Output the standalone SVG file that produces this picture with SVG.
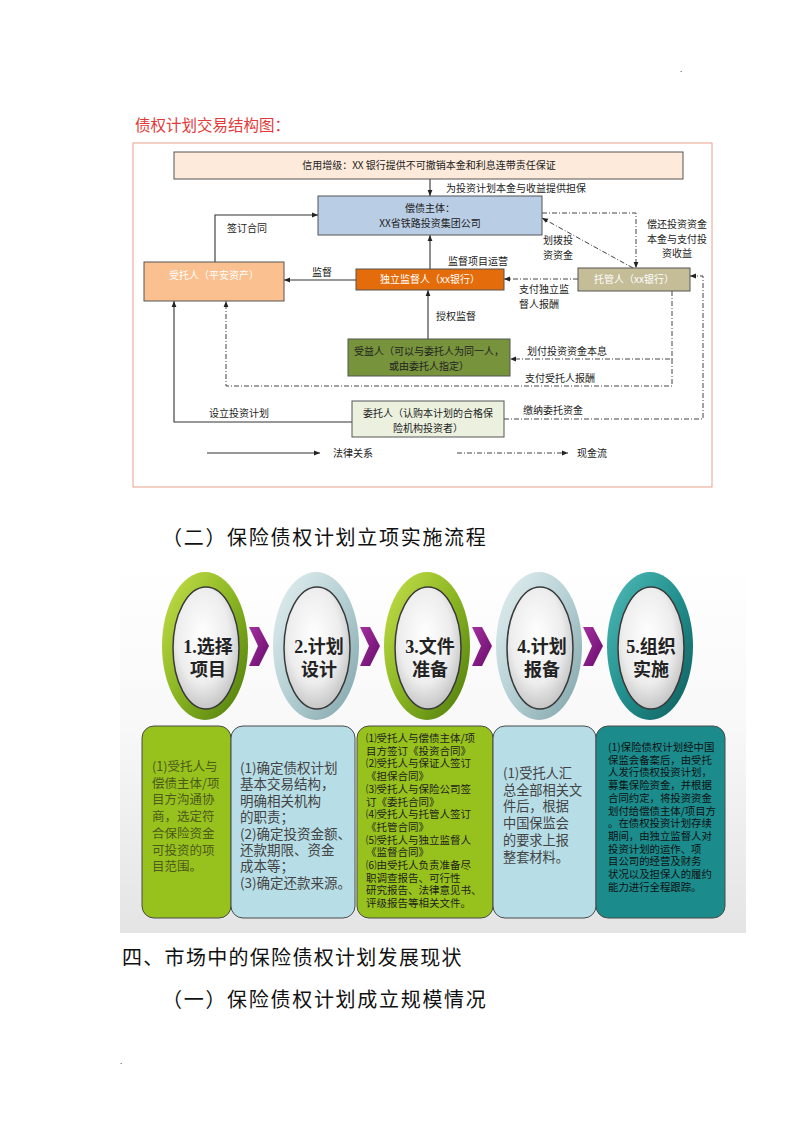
<svg xmlns="http://www.w3.org/2000/svg" width="800" height="1132" viewBox="0 0 800 1132">
<defs>
<style>
.t{font-family:"Noto Sans CJK SC","Liberation Sans",sans-serif;}
.s{font-family:"Noto Sans CJK SC","Liberation Sans",sans-serif;font-size:10px;fill:#222;}
.w{fill:#fff;}
.c{text-anchor:middle;}
.h{font-family:"Noto Sans CJK SC","Liberation Serif",serif;font-size:20px;fill:#111;}
.ln{fill:none;stroke:#333;stroke-width:1.1;}
.dd{fill:none;stroke:#444;stroke-width:1;stroke-dasharray:5 2 1 2;}
.box{stroke:#555;stroke-width:1;}
.ov{font-family:"Liberation Serif","Noto Sans CJK SC",serif;font-size:18px;font-weight:bold;fill:#222;text-anchor:middle;}
.tb{stroke:#4a4a4a;stroke-width:1;}
</style>
<marker id="ar" viewBox="0 0 10 10" refX="10" refY="5" markerWidth="6" markerHeight="6" orient="auto" markerUnits="userSpaceOnUse">
<path d="M0,1 L10,5 L0,9 z" fill="#222"/>
</marker>
<linearGradient id="gG" x1="0" y1="0" x2="1" y2="1">
<stop offset="0" stop-color="#c8e24c"/><stop offset="0.5" stop-color="#8ab522"/><stop offset="1" stop-color="#4c780b"/>
</linearGradient>
<linearGradient id="gB" x1="0" y1="0" x2="1" y2="1">
<stop offset="0" stop-color="#e6f1f2"/><stop offset="0.5" stop-color="#b5d0d4"/><stop offset="1" stop-color="#7ea2a7"/>
</linearGradient>
<linearGradient id="gT" x1="0" y1="0" x2="1" y2="1">
<stop offset="0" stop-color="#52bcb8"/><stop offset="0.5" stop-color="#22908e"/><stop offset="1" stop-color="#0e5c5b"/>
</linearGradient>
<radialGradient id="gI" cx="0.45" cy="0.4" r="0.65">
<stop offset="0" stop-color="#ffffff"/><stop offset="0.6" stop-color="#ededed"/><stop offset="1" stop-color="#bdbdbd"/>
</radialGradient>
<linearGradient id="gP" x1="0" y1="0" x2="1" y2="1">
<stop offset="0" stop-color="#a4309f"/><stop offset="1" stop-color="#680c6c"/>
</linearGradient>
<linearGradient id="gBg" x1="0" y1="0" x2="0" y2="1">
<stop offset="0" stop-color="#ffffff"/><stop offset="0.45" stop-color="#f8f8f8"/><stop offset="1" stop-color="#e4e4e4"/>
</linearGradient>
</defs>

<rect width="800" height="1132" fill="#fff"/>
<text class="t" x="680" y="72" font-size="8" fill="#444">.</text>
<text class="t" x="120" y="1064" font-size="8" fill="#444">.</text>

<text class="t" x="135" y="131" font-size="15.5" fill="#e23a3a">债权计划交易结构图：</text>
<rect x="133" y="143" width="579" height="344" fill="none" stroke="#e8a08e" stroke-width="1"/>

<g id="connectors">
<path class="ln" d="M430,179 V196" marker-end="url(#ar)"/>
<path class="ln" d="M215,262 V215 H318" marker-end="url(#ar)"/>
<path class="ln" d="M356,280 H284" marker-end="url(#ar)"/>
<path class="ln" d="M430,269 V235" marker-end="url(#ar)"/>
<path class="ln" d="M428,339 V290" marker-end="url(#ar)"/>
<path class="ln" d="M352,422 H174 V301" marker-end="url(#ar)"/>
<path class="ln" d="M207,453 H320" marker-end="url(#ar)"/>
<path class="dd" d="M578,279 H504" marker-end="url(#ar)"/>
<path class="dd" d="M633,268 L542,218" marker-end="url(#ar)"/>
<path class="dd" d="M542,213 H636 V268" marker-end="url(#ar)"/>
<path class="dd" d="M672,291 V359 H510" marker-end="url(#ar)"/>
<path class="dd" d="M672,359 V386 H226 V301" marker-end="url(#ar)"/>
<path class="dd" d="M504,419 H703 V276 H690" marker-end="url(#ar)"/>
<path class="dd" d="M457,453 H568" marker-end="url(#ar)"/>
</g>

<g id="labels">
<text class="s" x="446" y="192" font-size="8.5">为投资计划本金与收益提供担保</text>
<text class="s" x="227" y="232">签订合同</text>
<text class="s" x="312" y="276">监督</text>
<text class="s" x="448" y="265">监督项目运营</text>
<text class="s" x="543" y="244">划拨投<tspan x="543" dy="14.5">资资金</tspan></text>
<text class="s c" x="677" y="228">偿还投资资金<tspan x="677" dy="14.5">本金与支付投</tspan><tspan x="677" dy="14.5">资收益</tspan></text>
<text class="s" x="519" y="293">支付独立监<tspan x="519" dy="14.5">督人报酬</tspan></text>
<text class="s" x="436" y="320">授权监督</text>
<text class="s" x="527" y="355">划付投资资金本息</text>
<text class="s" x="525" y="382">支付受托人报酬</text>
<text class="s" x="523" y="414">缴纳委托资金</text>
<text class="s" x="209" y="417">设立投资计划</text>
<text class="s" x="333" y="457">法律关系</text>
<text class="s" x="577" y="457">现金流</text>
</g>

<g id="n-credit">
<rect class="box" x="174" y="152" width="509" height="27" fill="#fdeada"/>
<text class="s c" x="429" y="169">信用增级：XX 银行提供不可撤销本金和利息连带责任保证</text>
</g>
<g id="n-debtor">
<rect class="box" x="318" y="196" width="224" height="39" fill="#b9cde5" stroke="#666"/>
<text class="s c" x="430" y="212">偿债主体：<tspan x="430" dy="14.5">XX省铁路投资集团公司</tspan></text>
</g>
<g id="n-trustee">
<rect class="box" x="144" y="262" width="140" height="39" fill="#fac08f" stroke="#777"/>
<text class="s c w" x="214" y="279">受托人（平安资产）</text>
</g>
<g id="n-supervisor">
<rect class="box" x="356" y="269" width="148" height="21" fill="#e46c0a" stroke="#9a4a10"/>
<text class="s c w" x="430" y="283">独立监督人（xx银行）</text>
</g>
<g id="n-custodian">
<rect class="box" x="578" y="268" width="112" height="23" fill="#c4bd97" stroke="#666"/>
<text class="s c w" x="634" y="283">托管人（xx银行）</text>
</g>
<g id="n-beneficiary">
<rect class="box" x="348" y="339" width="162" height="37" fill="#77933c" stroke="#444"/>
<text class="s c" x="429" y="355" fill="#1a1a1a">受益人（可以与委托人为同一人，<tspan x="429" dy="14.5">或由委托人指定）</tspan></text>
</g>
<g id="n-settlor">
<rect class="box" x="352" y="401" width="152" height="36" fill="#ebf1de"/>
<text class="s c" x="428" y="417">委托人（认购本计划的合格保<tspan x="428" dy="14.5">险机构投资者）</tspan></text>
</g>

<text class="h" x="162" y="545" letter-spacing="1.7">（二）保险债权计划立项实施流程</text>

<rect x="120" y="563" width="626" height="370" fill="url(#gBg)"/>

<g id="chevrons">
<path d="M249,627 L259,627 L269,646 L259,666 L249,666 L258,646 z" fill="url(#gP)"/>
<path d="M360,627 L370,627 L380,646 L370,666 L360,666 L369,646 z" fill="url(#gP)"/>
<path d="M472,627 L482,627 L492,646 L482,666 L472,666 L481,646 z" fill="url(#gP)"/>
<path d="M583,627 L593,627 L603,646 L593,666 L583,666 L592,646 z" fill="url(#gP)"/>
</g>

<g id="step1">
<ellipse cx="205" cy="646" rx="43" ry="74" fill="url(#gG)"/>
<ellipse cx="206" cy="648" rx="33" ry="61" fill="url(#gI)" stroke="#3a3a3a" stroke-width="1.5"/>
<text class="ov" x="208" y="653">1.选择<tspan x="208" dy="23">项目</tspan></text>
</g>
<g id="step2">
<ellipse cx="316" cy="646" rx="43" ry="74" fill="url(#gB)"/>
<ellipse cx="317" cy="648" rx="33" ry="61" fill="url(#gI)" stroke="#3a3a3a" stroke-width="1.5"/>
<text class="ov" x="319" y="653">2.计划<tspan x="319" dy="23">设计</tspan></text>
</g>
<g id="step3">
<ellipse cx="427" cy="646" rx="43" ry="74" fill="url(#gG)"/>
<ellipse cx="428" cy="648" rx="33" ry="61" fill="url(#gI)" stroke="#3a3a3a" stroke-width="1.5"/>
<text class="ov" x="430" y="653">3.文件<tspan x="430" dy="23">准备</tspan></text>
</g>
<g id="step4">
<ellipse cx="539" cy="646" rx="43" ry="74" fill="url(#gB)"/>
<ellipse cx="540" cy="648" rx="33" ry="61" fill="url(#gI)" stroke="#3a3a3a" stroke-width="1.5"/>
<text class="ov" x="542" y="653">4.计划<tspan x="542" dy="23">报备</tspan></text>
</g>
<g id="step5">
<ellipse cx="650" cy="646" rx="43" ry="74" fill="url(#gT)"/>
<ellipse cx="651" cy="648" rx="33" ry="61" fill="url(#gI)" stroke="#3a3a3a" stroke-width="1.5"/>
<text class="ov" x="651" y="653">5.组织<tspan x="651" dy="23">实施</tspan></text>
</g>

<g id="box1">
<rect class="tb" x="142" y="726" width="89" height="192" rx="12" fill="#97c11c"/>
<text class="t" font-size="12.5" fill="#4d5a1e" x="152" y="771">(1)受托人与<tspan x="152" dy="16.7">偿债主体/项</tspan><tspan x="152" dy="16.7">目方沟通协</tspan><tspan x="152" dy="16.7">商，选定符</tspan><tspan x="152" dy="16.7">合保险资金</tspan><tspan x="152" dy="16.7">可投资的项</tspan><tspan x="152" dy="16.7">目范围。</tspan></text>
</g>
<g id="box2">
<rect class="tb" x="231" y="726" width="124" height="192" rx="12" fill="#b7dde6"/>
<text class="t" font-size="13.5" fill="#444" x="240" y="773">(1)确定债权计划<tspan x="240" dy="16.4">基本交易结构，</tspan><tspan x="240" dy="16.4">明确相关机构</tspan><tspan x="240" dy="16.4">的职责；</tspan><tspan x="240" dy="16.4">(2)确定投资金额、</tspan><tspan x="240" dy="16.4">还款期限、资金</tspan><tspan x="240" dy="16.4">成本等；</tspan><tspan x="240" dy="16.4">(3)确定还款来源。</tspan></text>
</g>
<g id="box3">
<rect class="tb" x="357" y="726" width="136" height="192" rx="12" fill="#97c11c"/>
<text class="t" font-size="10.5" fill="#222" x="366" y="742">⑴受托人与偿债主体/项<tspan x="366" dy="12.7">目方签订《投资合同》</tspan><tspan x="366" dy="12.7">⑵受托人与保证人签订</tspan><tspan x="366" dy="12.7">《担保合同》</tspan><tspan x="366" dy="12.7">⑶受托人与保险公司签</tspan><tspan x="366" dy="12.7">订《委托合同》</tspan><tspan x="366" dy="12.7">⑷受托人与托管人签订</tspan><tspan x="366" dy="12.7">《托管合同》</tspan><tspan x="366" dy="12.7">⑸受托人与独立监督人</tspan><tspan x="366" dy="12.7">《监督合同》</tspan><tspan x="366" dy="12.7">⑹由受托人负责准备尽</tspan><tspan x="366" dy="12.7">职调查报告、可行性</tspan><tspan x="366" dy="12.7">研究报告、法律意见书、</tspan><tspan x="366" dy="12.7">评级报告等相关文件。</tspan></text>
</g>
<g id="box4">
<rect class="tb" x="493" y="726" width="103" height="192" rx="12" fill="#b7dde6"/>
<text class="t" font-size="13.2" fill="#444" x="503" y="778">(1)受托人汇<tspan x="503" dy="16.7">总全部相关文</tspan><tspan x="503" dy="16.7">件后，根据</tspan><tspan x="503" dy="16.7">中国保监会</tspan><tspan x="503" dy="16.7">的要求上报</tspan><tspan x="503" dy="16.7">整套材料。</tspan></text>
</g>
<g id="box5">
<rect class="tb" x="596" y="726" width="129" height="192" rx="12" fill="#1b8b8c"/>
<text class="t" font-size="10.4" fill="#111" x="608" y="751">(1)保险债权计划经中国<tspan x="608" dy="12.7">保监会备案后，由受托</tspan><tspan x="608" dy="12.7">人发行债权投资计划，</tspan><tspan x="608" dy="12.7">募集保险资金，并根据</tspan><tspan x="608" dy="12.7">合同约定，将投资资金</tspan><tspan x="608" dy="12.7">划付给偿债主体/项目方</tspan><tspan x="608" dy="12.7">。在债权投资计划存续</tspan><tspan x="608" dy="12.7">期间，由独立监督人对</tspan><tspan x="608" dy="12.7">投资计划的运作、项</tspan><tspan x="608" dy="12.7">目公司的经营及财务</tspan><tspan x="608" dy="12.7">状况以及担保人的履约</tspan><tspan x="608" dy="12.7">能力进行全程跟踪。</tspan></text>
</g>

<text class="h" x="122" y="965" letter-spacing="1.3">四、市场中的保险债权计划发展现状</text>
<text class="h" x="162" y="1007" letter-spacing="1.7">（一）保险债权计划成立规模情况</text>
</svg>
